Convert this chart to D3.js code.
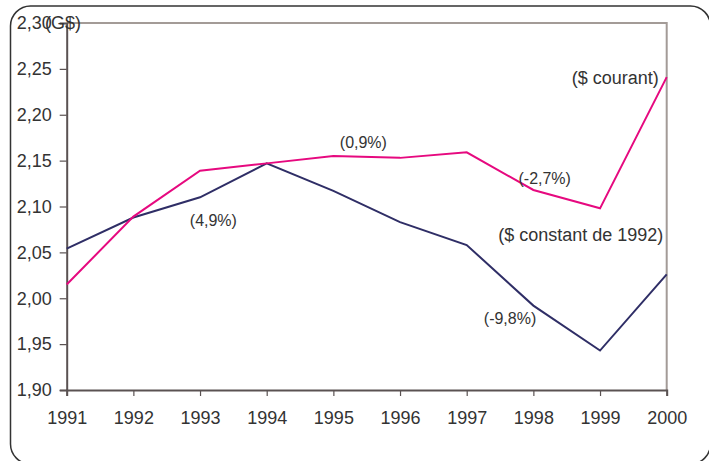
<!DOCTYPE html>
<meta charset="utf-8">
<style>
  body { margin: 0; background: #fff; }
  text { font-family: "Liberation Sans", Arial, sans-serif; fill: #333; }
</style>
<body>
<script src="https://cdn.jsdelivr.net/npm/d3@7"></script>
<script>
var years = [1991, 1992, 1993, 1994, 1995, 1996, 1997, 1998, 1999, 2000];
var courant = [2.015, 2.089, 2.139, 2.147, 2.155, 2.153, 2.159, 2.118, 2.098, 2.241];
var constant1992 = [2.054, 2.088, 2.110, 2.147, 2.117, 2.083, 2.058, 1.992, 1.943, 2.026];
var yTicks = [1.90, 1.95, 2.00, 2.05, 2.10, 2.15, 2.20, 2.25, 2.30];

// annotations: [text, year, value, anchor]
var notes = [
  ["(4,9%)", 1993.2, 2.079, "middle"],
  ["(0,9%)", 1995.45, 2.164, "middle"],
  ["(-2,7%)", 1998.17, 2.124, "middle"],
  ["(-9,8%)", 1997.65, 1.972, "middle"]
];
var seriesLabels = [
  ["($ courant)", 1999.88, 2.2335, 22],
  ["($ constant de 1992)", 1999.95, 2.0625, 0]
];

var width = 709, height = 461;
var margin = {top: 23, right: 42.3, bottom: 71, left: 66.7};

var svg = d3.select("body").append("svg")
    .attr("width", width)
    .attr("height", height);

// rounded outer frame
svg.append("rect")
    .attr("x", 10.5).attr("y", 6)
    .attr("width", 700).attr("height", 458)
    .attr("rx", 20).attr("ry", 20)
    .attr("fill", "none")
    .attr("stroke", "#333")
    .attr("stroke-width", 1.5);

var x = d3.scaleLinear().domain([1991, 2000]).range([margin.left, width - margin.right]);
var y = d3.scaleLinear().domain([1.90, 2.30]).range([height - margin.bottom, margin.top]);

var fr = d3.formatLocale({decimal: ",", thousands: " ", grouping: [3], currency: ["", "$"]});
var fmt = fr.format(".2f");

// top and right border of plot
svg.append("path")
    .attr("d", "M" + x(1991) + "," + y(2.30) + "H" + x(2000) + "V" + y(1.90))
    .attr("fill", "none")
    .attr("stroke", "#a39b97")
    .attr("stroke-width", 2);

var yAxis = svg.append("g")
    .attr("transform", "translate(" + x(1991) + ",0)")
    .call(d3.axisLeft(y).tickValues(yTicks).tickFormat(fmt).tickSize(7).tickPadding(8));

var xAxis = svg.append("g")
    .attr("transform", "translate(0," + y(1.90) + ")")
    .call(d3.axisBottom(x).tickValues(years).tickFormat(d3.format("d")).tickSize(6).tickPadding(15));

[yAxis, xAxis].forEach(function(g) {
  g.select(".domain").attr("stroke", "#5a5252").attr("stroke-width", 2);
  g.selectAll(".tick line").attr("stroke", "#5a5252").attr("stroke-width", 1.2);
  g.selectAll(".tick text")
      .attr("fill", "#333")
      .style("font-size", "18px")
      .style("font-family", "'Liberation Sans', Arial, sans-serif");
});

svg.append("text")
    .attr("x", 45).attr("y", 29)
    .style("font-size", "18px")
    .text("(G$)");

var line = d3.line()
    .x(function(d, i) { return x(years[i]); })
    .y(function(d) { return y(d); });

svg.append("path")
    .datum(constant1992)
    .attr("d", line)
    .attr("fill", "none")
    .attr("stroke", "#2f2e66")
    .attr("stroke-width", 2);

svg.append("path")
    .datum(courant)
    .attr("d", line)
    .attr("fill", "none")
    .attr("stroke", "#e6097f")
    .attr("stroke-width", 2);

svg.selectAll(".note")
    .data(notes)
  .enter().append("text")
    .attr("class", "note")
    .attr("x", function(d) { return x(d[1]); })
    .attr("y", function(d) { return y(d[2]); })
    .attr("text-anchor", function(d) { return d[3]; })
    .style("font-size", "16px")
    .text(function(d) { return d[0]; });

svg.selectAll(".slabel")
    .data(seriesLabels)
  .enter().append("text")
    .attr("class", "slabel")
    .attr("x", function(d) { return x(d[1]); })
    .attr("y", function(d) { return y(d[2]); })
    .attr("text-anchor", "end")
    .style("font-size", "18px")
    .text(function(d) { return d[0]; });
</script>
</body>
